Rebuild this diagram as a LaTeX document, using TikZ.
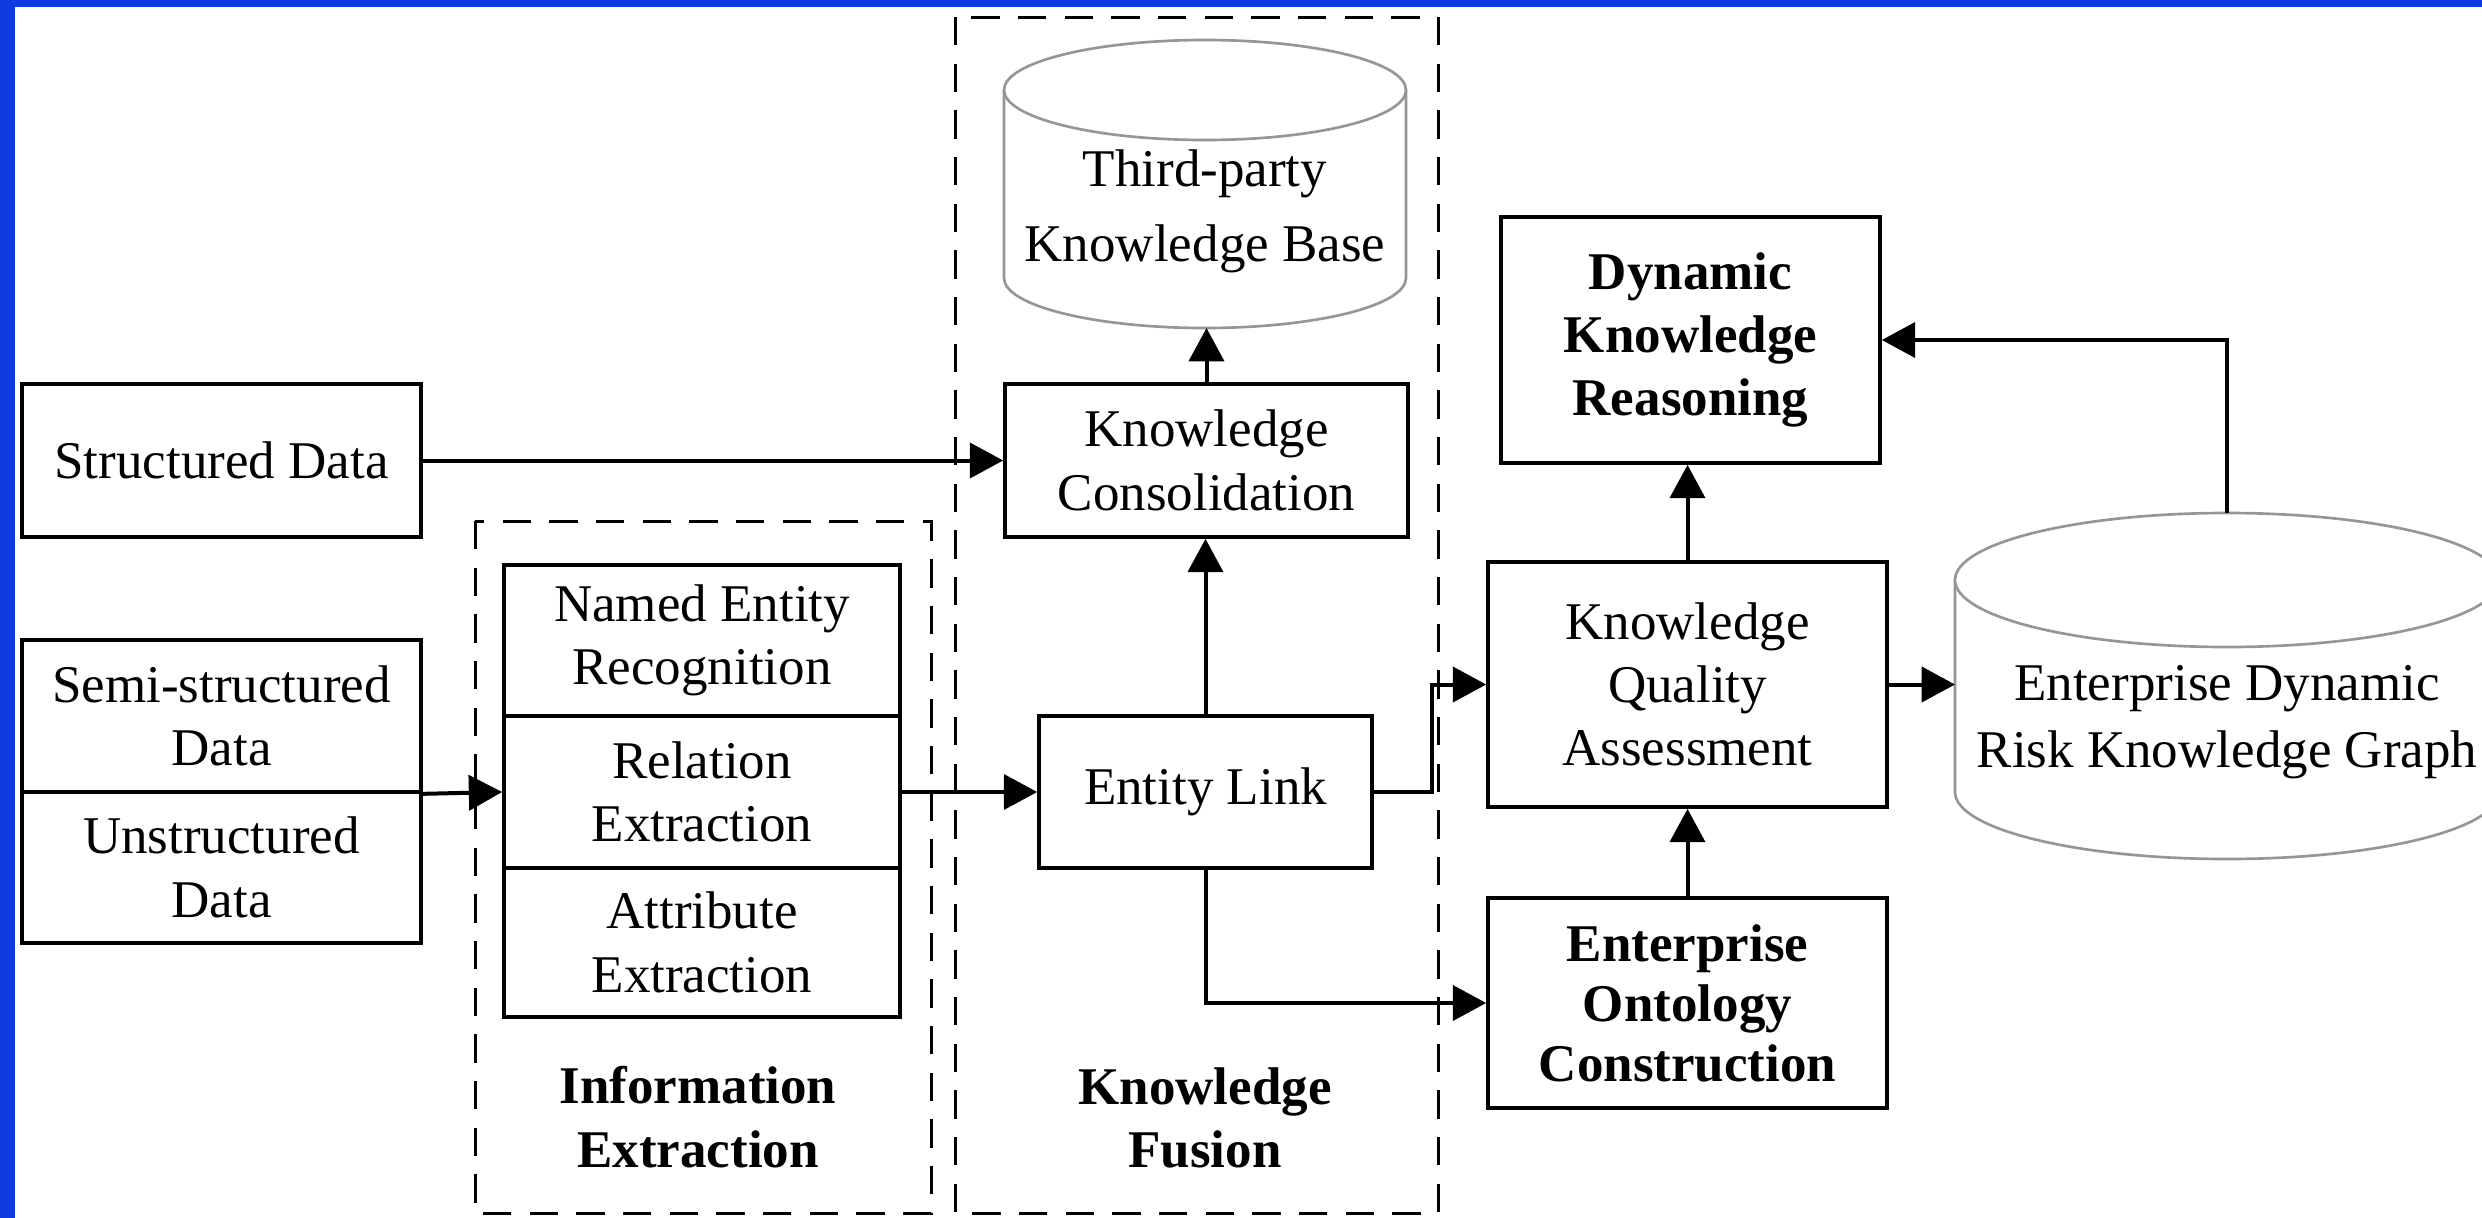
\documentclass[tikz,border=0pt]{standalone}
\usepackage{fontspec}
\setmainfont{Liberation Serif}
\usetikzlibrary{arrows.meta,calc}
\definecolor{frameblue}{RGB}{14,60,224}
\definecolor{dbgray}{RGB}{150,150,150}

\begin{document}
\begin{tikzpicture}[x=0.3pt,y=-0.3pt,
  font=\fontsize{15.9pt}{19pt}\selectfont,
  box/.style={draw=black, line width=1.1pt, fill=white, align=center, inner sep=0pt},
  wh/.style 2 args={minimum width=#1*0.3pt, minimum height=#2*0.3pt},
  group/.style={draw=black, line width=0.9pt, dash pattern=on 8.5pt off 5.5pt},
  link/.style={line width=1.2pt, -{Triangle[length=10pt,width=10.5pt]}},
  db/.style={draw=dbgray, line width=0.8pt, fill=white},
  heading/.style={font=\fontsize{15.9pt}{19pt}\selectfont\bfseries, align=center}
]
% page background and blue frame strips
\fill[white] (0,0) rectangle (2482,1218);
\fill[frameblue] (0,0) rectangle (15,1218);
\fill[frameblue] (0,0) rectangle (2482,7);
\useasboundingbox (0,0) rectangle (2482,1218);

% dashed stage groups
\draw[group] (475,521) rectangle (931,1213);
\draw[group] (955,17) rectangle (1438,1213);

% third-party knowledge base cylinder
\draw[db] (1004,90) -- (1004,278) arc[start angle=180, end angle=0, x radius=201, y radius=50] -- (1406,90);
\draw[db] (1205,90) ellipse [x radius=201, y radius=50];
\node[align=center, font=\fontsize{15.9pt}{22.5pt}\selectfont] (tpkb) at (1205,211) {Third-party\\Knowledge Base};
\coordinate (tpbase) at (1205,328);

% knowledge graph cylinder (runs off the right edge)
\begin{scope}
\clip (0,0) rectangle (2482,1218);
\draw[db] (1955,580) -- (1955,792) arc[start angle=180, end angle=0, x radius=272, y radius=67] -- (2499,580);
\draw[db] (2227,580) ellipse [x radius=272, y radius=67];
\end{scope}
\node[align=center, font=\fontsize{15.9pt}{20pt}\selectfont] (ekg) at (2227,722) {Enterprise Dynamic\\Risk Knowledge Graph};
\coordinate (ekgtop) at (2227,513);
\coordinate (ekgside) at (1955,687);

% data sources
\node[box, wh={399}{153}] (sd) at (221.5,460.5) {Structured Data};
\node[box, wh={399}{152}] (semi) at (221.5,716) {Semi-structured\\Data};
\node[box, wh={399}{151}] (unstr) at (221.5,867.5) {Unstructured\\Data};

% information extraction stack
\node[box, wh={396}{151}] (ner) at (702,640.5) {Named Entity\\Recognition};
\node[box, wh={396}{152}] (rel) at (702,792) {Relation\\Extraction};
\node[box, wh={396}{149}] (attr) at (702,942.5) {Attribute\\Extraction};
\node[heading] (ielabel) at (698,1117) {Information\\Extraction};

% knowledge fusion
\node[box, wh={403}{153}] (kc) at (1206.5,460.5) {Knowledge\\Consolidation};
\node[box, wh={333}{152}] (el) at (1205.5,792) {Entity Link};
\node[heading] (kflabel) at (1205,1118) {Knowledge\\Fusion};
\coordinate (elbend) at (1432,792);

% quality, ontology and reasoning
\node[box, wh={379}{246}, font=\fontsize{15.9pt}{19pt}\selectfont\bfseries] (dkr) at (1690.5,340) {Dynamic\\Knowledge\\Reasoning};
\node[box, wh={399}{245}] (kqa) at (1687.5,684.5) {Knowledge\\Quality\\Assessment};
\node[box, wh={399}{210}, font=\fontsize{15.9pt}{18pt}\selectfont\bfseries] (eoc) at (1687.5,1003) {Enterprise\\Ontology\\Construction};

% connectors
\draw[link] (sd.east) -- (kc.west);
\draw[link] (semi.south east) -- (rel.west);
\draw[link] (rel.east) -- (el.west);
\draw[link] (el.north) -- (el.north |- kc.south);
\draw[link] (kc.north) -- (kc.north |- tpbase);
\draw[link] (el.east) -- (elbend) |- (kqa.west);
\draw[link] (el.south) |- (eoc.west);
\draw[link] (eoc.north) -- (kqa.south);
\draw[link] (kqa.north) -- (kqa.north |- dkr.south);
\draw[link] (kqa.east) -- (kqa.east -| ekgside);
\draw[link] (ekgtop) |- (dkr.east);
\end{tikzpicture}
\end{document}
